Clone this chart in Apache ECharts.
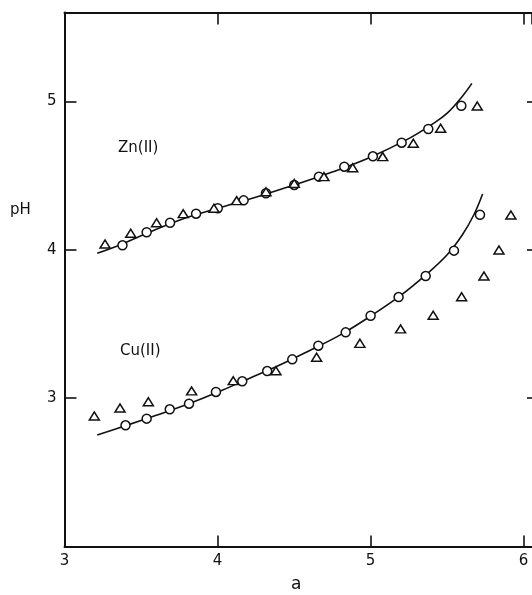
<!DOCTYPE html>
<html>
<head>
<meta charset="utf-8">
<script src="https://cdn.jsdelivr.net/npm/echarts@6/dist/echarts.min.js"></script>
<style>
html,body{margin:0;padding:0;background:#fff;}
#chart{width:532px;height:595px;}
</style>
</head>
<body>
<div id="chart"></div>
<script>
// ---- data ----
const xTickValues = [3, 4, 5, 6];
const yTickValues = [3, 4, 5];

const znCircleX = [3.379, 3.537, 3.690, 3.860, 4.002, 4.171, 4.317, 4.502, 4.663, 4.829, 5.016, 5.204, 5.378, 5.594];
const znCircleY = [4.031, 4.119, 4.183, 4.244, 4.281, 4.334, 4.382, 4.438, 4.494, 4.561, 4.631, 4.723, 4.815, 4.972];
const znTriX = [3.265, 3.433, 3.602, 3.776, 3.977, 4.125, 4.317, 4.502, 4.696, 4.884, 5.080, 5.280, 5.459, 5.698];
const znTriY = [4.040, 4.112, 4.183, 4.244, 4.281, 4.332, 4.392, 4.448, 4.494, 4.554, 4.629, 4.719, 4.820, 4.970];
const znCurveX = [3.214, 3.379, 3.5, 3.75, 4.0, 4.25, 4.5, 4.75, 5.0, 5.25, 5.4, 5.5, 5.6, 5.663];
const znCurveY = [3.977, 4.040, 4.095, 4.200, 4.280, 4.355, 4.437, 4.525, 4.625, 4.750, 4.845, 4.920, 5.035, 5.123];

const cuCircleX = [3.399, 3.537, 3.688, 3.814, 3.990, 4.162, 4.325, 4.489, 4.659, 4.838, 5.001, 5.184, 5.361, 5.546, 5.716];
const cuCircleY = [2.817, 2.862, 2.925, 2.963, 3.042, 3.114, 3.183, 3.262, 3.354, 3.444, 3.556, 3.682, 3.824, 3.995, 4.237];
const cuTriX = [3.195, 3.363, 3.548, 3.831, 4.103, 4.382, 4.648, 4.931, 5.197, 5.410, 5.596, 5.742, 5.840, 5.918];
const cuTriY = [2.880, 2.934, 2.976, 3.049, 3.118, 3.185, 3.276, 3.370, 3.467, 3.559, 3.684, 3.824, 3.999, 4.235];
const cuCurveX = [3.214, 3.4, 3.6, 3.8, 4.0, 4.2, 4.4, 4.6, 4.8, 5.0, 5.2, 5.36, 5.5, 5.6, 5.676, 5.733];
const cuCurveY = [2.752, 2.815, 2.885, 2.958, 3.040, 3.130, 3.220, 3.320, 3.425, 3.553, 3.695, 3.830, 3.965, 4.100, 4.237, 4.377];

const seriesLabels = ['Zn(II)', 'Cu(II)'];
const xName = 'a';
const yName = 'pH';

// ---- build ----
const zip = (xs, ys) => xs.map((x, i) => [x, ys[i]]);
const INK = '#111';
const FONT = 'DejaVu Sans';

const chart = echarts.init(document.getElementById('chart'), null, {renderer: 'canvas'});

const isTickX = v => xTickValues.some(t => Math.abs(t - v) < 1e-6);
const isTickY = v => yTickValues.some(t => Math.abs(t - v) < 1e-6);

const pointStyle = {color: '#fff', borderColor: INK, borderWidth: 1.5, opacity: 1};

const X_MIN = 3, X_MAX = 6.056, Y_MIN = 2, Y_MAX = 5.6;

const option = {
  animation: false,
  backgroundColor: '#fff',
  grid: {left: 64.5, right: 0, top: 12.6, bottom: 48.5, containLabel: false},
  xAxis: [
    {
      type: 'value', min: X_MIN, max: X_MAX, interval: 1, position: 'bottom',
      axisLine: {show: true, onZero: false, lineStyle: {color: INK, width: 2}},
      axisTick: {show: true, inside: true, length: 11, lineStyle: {color: INK, width: 1.6}},
      axisLabel: {
        show: true, margin: 7, color: INK, fontSize: 15, fontFamily: FONT,
        showMaxLabel: false,
        formatter: v => isTickX(v) ? String(v) : ''
      },
      splitLine: {show: false}
    },
    {
      type: 'value', min: X_MIN, max: X_MAX, interval: 1, position: 'top',
      axisLine: {show: true, onZero: false, lineStyle: {color: INK, width: 2}},
      axisTick: {show: true, inside: true, length: 12, lineStyle: {color: INK, width: 1.6}},
      axisLabel: {show: false},
      splitLine: {show: false}
    }
  ],
  yAxis: [
    {
      type: 'value', min: Y_MIN, max: Y_MAX, interval: 1, position: 'left',
      axisLine: {show: true, onZero: false, lineStyle: {color: INK, width: 2}},
      axisTick: {show: true, inside: true, length: 12, lineStyle: {color: INK, width: 1.6}},
      axisLabel: {
        show: true, margin: 8, color: INK, fontSize: 15, fontFamily: FONT,
        showMaxLabel: false,
        formatter: v => isTickY(v) ? String(v) : ''
      },
      splitLine: {show: false}
    },
    {
      type: 'value', min: Y_MIN, max: Y_MAX, interval: 1, position: 'right',
      axisLine: {show: false},
      axisTick: {show: true, inside: true, length: 5, lineStyle: {color: INK, width: 1.6}},
      axisLabel: {show: false},
      splitLine: {show: false}
    }
  ],
  graphic: [
    {type: 'text', left: 10, top: 203, style: {text: yName, font: '15px "DejaVu Sans"', fill: INK}},
    {type: 'text', left: 291, top: 576, style: {text: xName, font: '17px "DejaVu Sans"', fill: INK}},
    {type: 'text', left: 118, top: 141, style: {text: seriesLabels[0], font: '15px "DejaVu Sans"', fill: INK}},
    {type: 'text', left: 120, top: 344, style: {text: seriesLabels[1], font: '15px "DejaVu Sans"', fill: INK}}
  ],
  series: [
    {
      name: 'Zn curve', type: 'line', data: zip(znCurveX, znCurveY), smooth: 0.4,
      showSymbol: false, symbol: 'none', lineStyle: {color: INK, width: 1.6}, z: 2
    },
    {
      name: 'Cu curve', type: 'line', data: zip(cuCurveX, cuCurveY), smooth: 0.4,
      showSymbol: false, symbol: 'none', lineStyle: {color: INK, width: 1.6}, z: 2
    },
    {
      name: 'Zn circles', type: 'scatter', data: zip(znCircleX, znCircleY),
      symbol: 'circle', symbolSize: 9, itemStyle: pointStyle, z: 3
    },
    {
      name: 'Zn triangles', type: 'scatter', data: zip(znTriX, znTriY),
      symbol: 'triangle', symbolSize: [10, 8], itemStyle: pointStyle, z: 3
    },
    {
      name: 'Cu circles', type: 'scatter', data: zip(cuCircleX, cuCircleY),
      symbol: 'circle', symbolSize: 9, itemStyle: pointStyle, z: 3
    },
    {
      name: 'Cu triangles', type: 'scatter', data: zip(cuTriX, cuTriY),
      symbol: 'triangle', symbolSize: [10, 8], itemStyle: pointStyle, z: 3
    }
  ]
};
chart.setOption(option);
</script>
</body>
</html>
